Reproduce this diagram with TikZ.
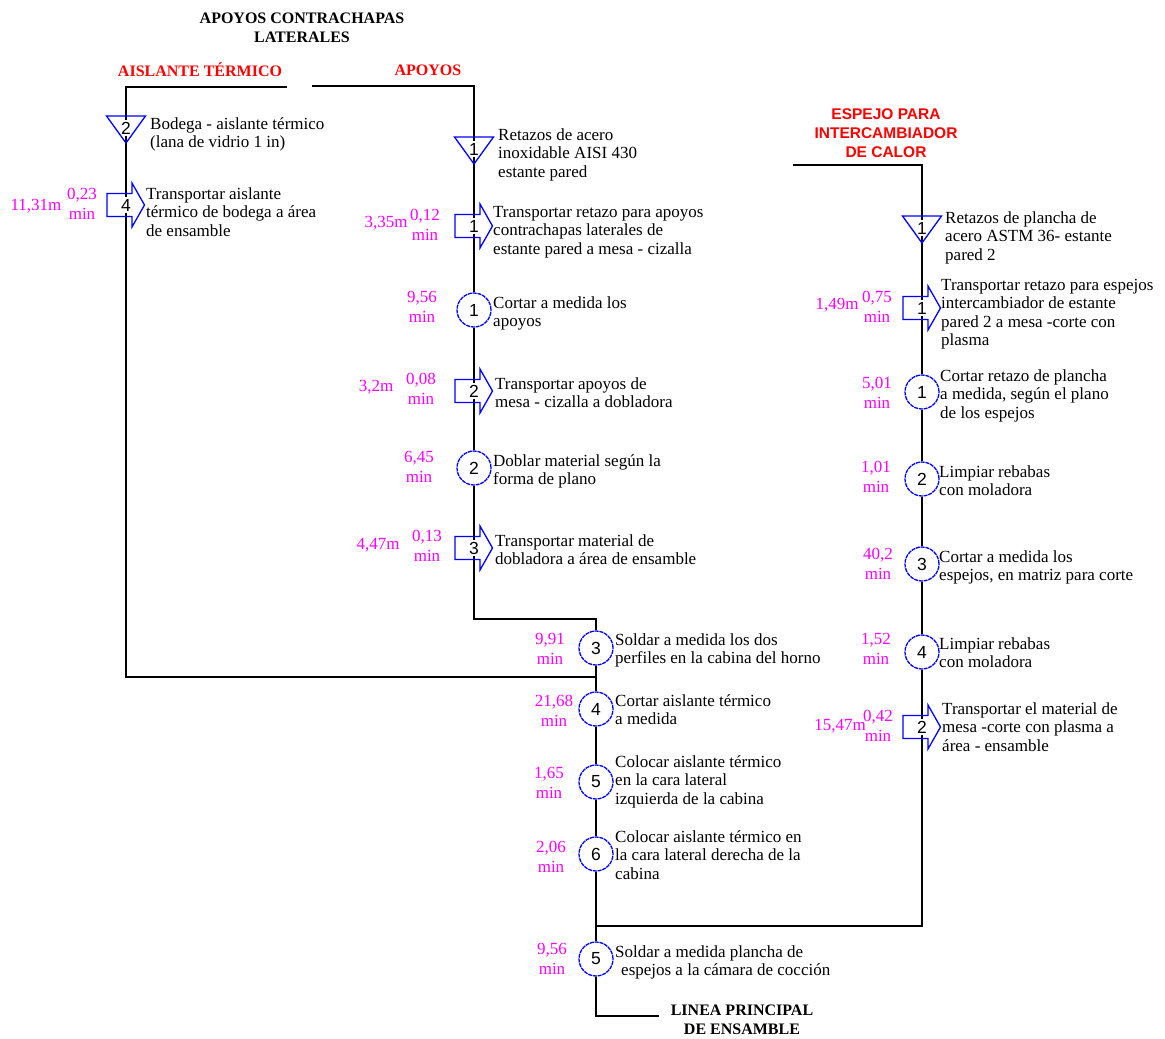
\documentclass[tikz,border=0pt]{standalone}
\usepackage{fontspec}
\setmainfont{Liberation Serif}
\newfontfamily\serifbold{Liberation Serif}
\newfontfamily\sansbold{Liberation Sans}
\newfontfamily\digitfamily{Liberation Sans}
\newcommand\descfont{\rmfamily\fontsize{17}{18.5}\selectfont}
\newcommand\timefont{\rmfamily\fontsize{17}{19.5}\selectfont}
\newcommand\numfont{\digitfamily\fontsize{17.5}{19}\selectfont}
\newcommand\headfont{\serifbold\bfseries\fontsize{16}{19}\selectfont}
\newcommand\redheadfont{\sansbold\bfseries\fontsize{15.5}{19}\selectfont}
\definecolor{opblue}{RGB}{0,0,255}
\definecolor{opred}{RGB}{255,0,0}
\definecolor{opmag}{RGB}{255,0,255}

\tikzset{
  flow/.style={line width=1.5pt, black},
  outline/.style={draw=opblue, line width=1.3pt, line join=miter},
  oper/.style={circle, draw=opblue, line width=1.3pt, minimum size=34pt, inner sep=0pt,
               dash pattern=on 4pt off 0.8pt, font=\numfont},
  num/.style={inner sep=1.5pt, font=\numfont},
  desc/.style={anchor=north west, inner sep=0pt, align=left, font=\descfont},
  tm/.style={text=opmag, align=center, inner sep=0pt, font=\timefont},
  hd/.style={align=center, inner sep=0pt, font=\headfont},
  rhd/.style={align=center, inner sep=0pt, text=opred, font=\headfont},
}

% storage symbol: inverted triangle around a numbered node
\newcommand\almacen[1]{\draw[outline] (#1.center) ++(-19.5,-12) -- ++(39,0) -- ++(-19.5,27) -- cycle;}
% transport symbol: block arrow pointing right around a numbered node
\newcommand\transporte[1]{\draw[outline] (#1.center) ++(-19,-11.5) -- ++(25,0) -- ++(0,-10.5)
   -- ++(12.5,22) -- ++(-12.5,22) -- ++(0,-10.5) -- ++(-25,0) -- cycle;}

\begin{document}
\begin{tikzpicture}[x=1pt,y=-1pt]
\useasboundingbox (0,0) rectangle (1165,1039);

% ---------------- headings ----------------
\node[hd] (hApoyosCon) at (302,28) {APOYOS CONTRACHAPAS\\LATERALES};
\node[rhd] (hAislante) at (200,70) {AISLANTE TÉRMICO};
\node[rhd] (hApoyos) at (428,70) {APOYOS};
\node[rhd, font=\redheadfont] (hEspejo) at (886,133) {ESPEJO PARA\\INTERCAMBIADOR\\DE CALOR};
\node[hd] (hLinea) at (742,1020) {LINEA PRINCIPAL\\DE ENSAMBLE};

% ---------------- corner points of the flow lines ----------------
\coordinate (lStart) at (287,87);
\coordinate (lTop)   at (126,87);
\coordinate (lBot)   at (126,677);
\coordinate (lJoin)  at (596,677);
\coordinate (aStart) at (312,86);
\coordinate (aTop)   at (474,86);
\coordinate (aBot)   at (474,619);
\coordinate (aJoin)  at (596,619);
\coordinate (rStart) at (793,165);
\coordinate (rTop)   at (922,165);
\coordinate (rBot)   at (922,926);
\coordinate (rJoin)  at (596,926);
\coordinate (mBot)   at (596,1016);
\coordinate (mEnd)   at (659,1016);

% ---------------- aislante térmico ----------------
\node[num] (L1) at (126,128) {2};
\node[num] (L2) at (126,205) {4};
\node[desc] (dL1) at (150,{129-13}) {\strut Bodega - aislante térmico\\(lana de vidrio 1 in)};
\node[desc] (dL2) at (146,{199-13}) {\strut Transportar aislante\\térmico de bodega a área\\de ensamble};
\node[tm] (xL2) at (36,206) {11,31m};
\node[tm] (tL2) at (82,204) {0,23\\min};

% ---------------- apoyos ----------------
\node[num]  (A1) at (474,149) {1};
\node[num]  (A2) at (474,226) {1};
\node[oper] (A3) at (474,310) {1};
\node[num]  (A4) at (474,391) {2};
\node[oper] (A5) at (474,468) {2};
\node[num]  (A6) at (474,548) {3};
\node[desc] (dA1) at (498,{140-13}) {\strut Retazos de acero\\inoxidable AISI 430\\estante pared};
\node[desc] (dA2) at (493,{217-13}) {\strut Transportar retazo para apoyos\\contrachapas laterales de\\estante pared a mesa - cizalla};
\node[desc] (dA3) at (493,{308-13}) {\strut Cortar a medida los\\apoyos};
\node[desc] (dA4) at (495,{389-13}) {\strut Transportar apoyos de\\mesa - cizalla a dobladora};
\node[desc] (dA5) at (493,{466-13}) {\strut Doblar material según la\\forma de plano};
\node[desc] (dA6) at (495,{546-13}) {\strut Transportar material de\\dobladora a área de ensamble};
\node[tm] (xA2) at (386,223) {3,35m};
\node[tm] (tA2) at (425,225) {0,12\\min};
\node[tm] (tA3) at (422,307) {9,56\\min};
\node[tm] (xA4) at (376,387) {3,2m};
\node[tm] (tA4) at (421,389) {0,08\\min};
\node[tm] (tA5) at (419,467) {6,45\\min};
\node[tm] (xA6) at (378,545) {4,47m};
\node[tm] (tA6) at (427,546) {0,13\\min};

% ---------------- línea principal ----------------
\node[oper] (M3) at (596,648) {3};
\node[oper] (M4) at (596,709) {4};
\node[oper] (M5) at (596,782) {5};
\node[oper] (M6) at (596,854) {6};
\node[oper] (M7) at (596,959) {5};
\node[desc] (dM3) at (615,{645-13}) {\strut Soldar a medida los dos\\perfiles en la cabina del horno};
\node[desc] (dM4) at (615,{706-13}) {\strut Cortar aislante térmico\\a medida};
\node[desc] (dM5) at (615,{767-13}) {\strut Colocar aislante térmico\\en la cara lateral\\izquierda de la cabina};
\node[desc] (dM6) at (615,{842-13}) {\strut Colocar aislante térmico en\\la cara lateral derecha de la\\cabina};
\node[desc] (dM7) at (615,{957-13}) {\strut Soldar a medida plancha de\\\hspace*{6pt}espejos a la cámara de cocción};
\node[tm] (tM3) at (550,649) {9,91\\min};
\node[tm] (tM4) at (554,711) {21,68\\min};
\node[tm] (tM5) at (549,783) {1,65\\min};
\node[tm] (tM6) at (551,857) {2,06\\min};
\node[tm] (tM7) at (552,959) {9,56\\min};

% ---------------- espejo para intercambiador ----------------
\node[num]  (R1) at (922,228) {1};
\node[num]  (R2) at (922,308) {1};
\node[oper] (R3) at (922,392) {1};
\node[oper] (R4) at (922,479) {2};
\node[oper] (R5) at (922,564) {3};
\node[oper] (R6) at (922,652) {4};
\node[num]  (R7) at (922,727) {2};
\node[desc] (dR1) at (945,{223-13}) {\strut Retazos de plancha de\\acero ASTM 36- estante\\pared 2};
\node[desc] (dR2) at (941,{290-13}) {\strut Transportar retazo para espejos\\intercambiador de estante\\pared 2 a mesa -corte con\\plasma};
\node[desc] (dR3) at (940,{381-13}) {\strut Cortar retazo de plancha\\a medida, según el plano\\de los espejos};
\node[desc] (dR4) at (939,{477-13}) {\strut Limpiar rebabas\\con moladora};
\node[desc] (dR5) at (939,{562-13}) {\strut Cortar a medida los\\espejos, en matriz para corte};
\node[desc] (dR6) at (939,{649-13}) {\strut Limpiar rebabas\\con moladora};
\node[desc] (dR7) at (942,{714-13}) {\strut Transportar el material de\\mesa -corte con plasma a\\área - ensamble};
\node[tm] (xR2) at (837,305) {1,49m};
\node[tm] (tR2) at (877,307) {0,75\\min};
\node[tm] (tR3) at (877,393) {5,01\\min};
\node[tm] (tR4) at (876,477) {1,01\\min};
\node[tm] (tR5) at (878,564) {40,2\\min};
\node[tm] (tR6) at (876,649) {1,52\\min};
\node[tm] (xR7) at (840,726) {15,47m};
\node[tm] (tR7) at (878,726) {0,42\\min};

% ---------------- flow lines ----------------
\draw[flow] (lStart) -- (lTop) -- (L1);
\draw[flow] (L1) -- (L2);
\draw[flow] (L2) -- (lBot) -- (lJoin);

\draw[flow] (aStart) -- (aTop) -- (A1);
\draw[flow] (A1) -- (A2);
\draw[flow] (A2) -- (A3);
\draw[flow] (A3) -- (A4);
\draw[flow] (A4) -- (A5);
\draw[flow] (A5) -- (A6);
\draw[flow] (A6) -- (aBot) -- (aJoin) -- (M3);

\draw[flow] (M3) -- (M4);
\draw[flow] (M4) -- (M5);
\draw[flow] (M5) -- (M6);
\draw[flow] (M6) -- (M7);
\draw[flow] (M7) -- (mBot) -- (mEnd);

\draw[flow] (rStart) -- (rTop) -- (R1);
\draw[flow] (R1) -- (R2);
\draw[flow] (R2) -- (R3);
\draw[flow] (R3) -- (R4);
\draw[flow] (R4) -- (R5);
\draw[flow] (R5) -- (R6);
\draw[flow] (R6) -- (R7);
\draw[flow] (R7) -- (rBot) -- (rJoin);

% ---------------- storage and transport symbols ----------------
\almacen{L1}
\almacen{A1}
\almacen{R1}
\transporte{L2}
\transporte{A2}
\transporte{A4}
\transporte{A6}
\transporte{R2}
\transporte{R7}
\end{tikzpicture}
\end{document}
